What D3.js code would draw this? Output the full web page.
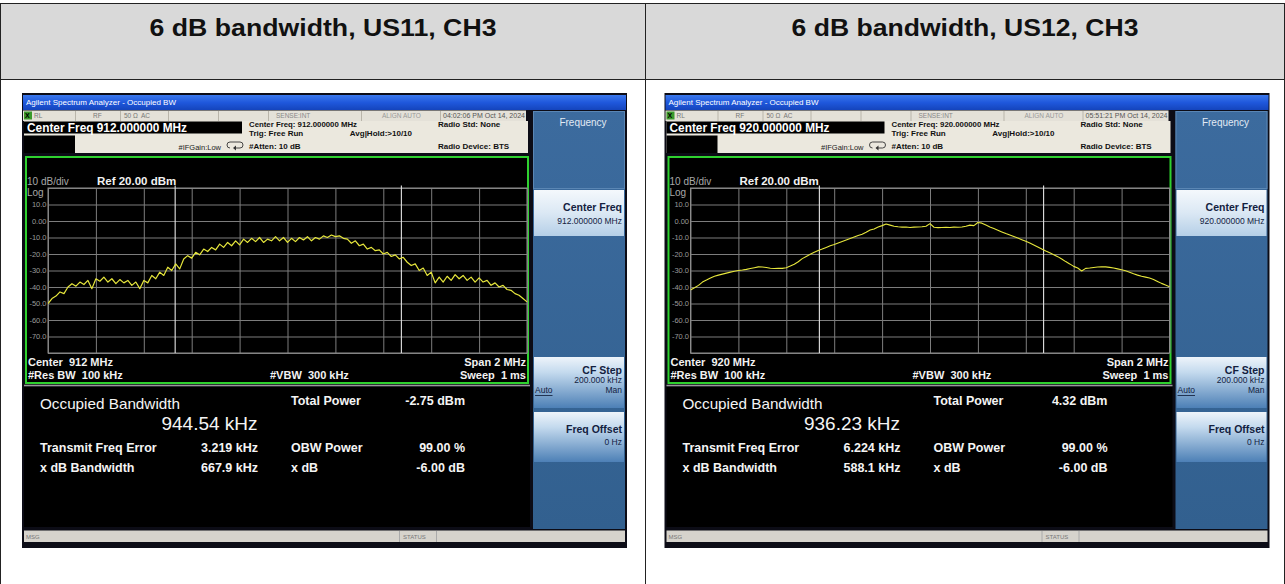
<!DOCTYPE html>
<html><head><meta charset="utf-8">
<script src="https://cdn.jsdelivr.net/npm/d3@7"></script>
<style>
body{margin:0;background:#fff;}
svg{display:block;font-family:Arial,"Liberation Sans",sans-serif;}
svg text{white-space:pre;}
</style></head>
<body><svg id="c" width="1285" height="584"></svg>
<script>
// ---------------- data ----------------
const titles = ["6 dB bandwidth, US11, CH3", "6 dB bandwidth, US12, CH3"];
const centerFreqMHz = [912, 920];
const spanMHz = 2;
const timestamps = ["04:02:06 PM Oct 14, 2024", "05:51:21 PM Oct 14, 2024"];
const occupiedBwKHz = [944.54, 936.23];
const totalPowerDbm = [-2.75, 4.32];
const freqErrorKHz = [3.219, 6.224];
const xdbBwKHz = [667.9, 588.1];
const obwPowerPct = [99.00, 99.00];
const xdbValue = [-6.00, -6.00];
const refLevelDbm = 20;
const dbPerDiv = 10;
const yGridValues = [20, 10, 0, -10, -20, -30, -40, -50, -60, -70, -80];
const yLabelValues = [10, 0, -10, -20, -30, -40, -50, -60, -70];
const yTickLabels = ["10.0", "0.00", "-10.0", "-20.0", "-30.0", "-40.0", "-50.0", "-60.0", "-70.0"];

// trace readings (dBm), 121 sweep points across the 2 MHz span
const traceUS11 = [
 -50,-47,-45.5,-43,-44,-40,-38,-39.5,-37,-38.5,-36,-41,-35,-36.5,-34,-37,-35,-38,-35.5,-37.5,
 -36,-39,-37,-41,-36,-37.5,-33,-35,-31,-33,-28,-30,-26,-29,-23,-21,-22.5,-19,-20.5,-17,
 -18.5,-16,-17.5,-14,-16,-13,-15,-12,-14.5,-11,-13,-10.5,-12.5,-10,-13,-11,-12,-9.5,-12,-10,
 -13,-10.5,-12.5,-10,-11.5,-9.5,-12,-10,-11,-9,-10,-8.5,-9.5,-9,-10.5,-11,-13.5,-12,-15,-14,
 -17,-16,-18,-17.5,-20,-19,-21.5,-20.5,-23,-22,-25,-27,-26,-30,-28.5,-33,-31,-37.5,-34,-37,
 -33.5,-36,-32.5,-35,-33,-36,-34,-37,-34.5,-37,-36,-39,-37.5,-40,-39,-41.5,-42,-44,-45,-47,
 -49
];
const traceUS12 = [
 -41.8,-40.5,-39,-37,-35.8,-34.5,-33.5,-32.8,-32.2,-31.6,-31,-30.5,-30,-29.7,-29.3,-28.8,-28.3,-27.8,-27.9,-28.2,
 -28.6,-28.8,-28.7,-28.7,-28.3,-27.3,-26.2,-24.7,-22.8,-21.5,-20.2,-19,-17.9,-17,-16,-15,-14.2,-13.3,-12.4,-11.5,
 -10.6,-9.7,-8.8,-8,-6.8,-5.5,-4.8,-3.6,-2.8,-1.8,-2.5,-3.2,-3.5,-3.7,-3.6,-3.9,-3.7,-3.6,-3.5,-3.2,
 -1.6,-3.8,-4,-3.9,-3.8,-3.9,-3.7,-3.8,-3.6,-3.2,-2.5,-2.8,-0.9,-1.3,-2.4,-3.6,-4.6,-5.6,-6.6,-7.6,
 -8.5,-9.4,-10.3,-11.3,-12.3,-13.4,-14.5,-15.7,-17,-18.2,-19.3,-20.4,-21.6,-23,-24.6,-26,-27.5,-28.5,-30.3,-28.7,
 -28.5,-28.2,-27.9,-27.7,-27.8,-28.1,-28.5,-29,-29.5,-30.2,-31,-32,-32.8,-33.5,-34,-34.6,-35.4,-36.6,-37.8,-38.8,
 -39.8
];
const traces = [traceUS11, traceUS12];

// ---------------- drawing ----------------
const svg = d3.select('#c');
const defs = svg.append('defs');
function lg(id, stops) {
  const g = defs.append('linearGradient').attr('id', id).attr('x1', 0).attr('y1', 0).attr('x2', 0).attr('y2', 1);
  stops.forEach(([o, c]) => g.append('stop').attr('offset', o).attr('stop-color', c));
}
lg('tb', [[0, '#3b78ec'], [0.5, '#1f58dc'], [1, '#1444bc']]);
lg('btnSel', [[0, '#f4f8fc'], [0.5, '#dbe8f4'], [1, '#b5cfe7']]);
lg('btn', [[0, '#eef4fa'], [0.3, '#c4daee'], [1, '#4d80b6']]);
lg('panel', [[0, '#3c6b9e'], [1, '#32608f']]);

// table
svg.append('rect').attr('x', 1).attr('y', 4).attr('width', 1283).attr('height', 75).attr('fill', '#d9d9d9');
const tl = (x1, y1, x2, y2) => svg.append('line').attr('x1', x1).attr('y1', y1).attr('x2', x2).attr('y2', y2)
  .attr('stroke', '#222').attr('stroke-width', 1);
tl(0, 3.5, 1285, 3.5);
tl(0, 79.5, 1285, 79.5);
tl(0.5, 3.5, 0.5, 584);
tl(645.5, 3.5, 645.5, 584);
tl(1284.5, 3.5, 1284.5, 584);
const colCenters = [323, 965];
titles.forEach((t, i) => {
  svg.append('text').attr('x', colCenters[i]).attr('y', 36).attr('text-anchor', 'middle')
    .attr('font-size', 23).attr('font-weight', 'bold').attr('fill', '#111')
    .attr('textLength', 347).attr('lengthAdjust', 'spacingAndGlyphs').text(t);
});

const screenDx = [0, 642.5];
const plot = {l: 48, r: 527, t: 188, b: 353};

function txt(g, x, y, s, o = {}) {
  const t = g.append('text').attr('x', x).attr('y', y).attr('dominant-baseline', 'central')
    .attr('font-size', o.size || 8).attr('fill', o.fill || '#111')
    .attr('font-weight', o.bold ? 'bold' : 'normal')
    .attr('text-anchor', o.anchor || 'start').text(s);
  if (o.len) t.attr('textLength', o.len).attr('lengthAdjust', 'spacingAndGlyphs');
  if (o.underline) t.attr('text-decoration', 'underline');
  return t;
}

traces.forEach((trace, si) => {
  const cf = centerFreqMHz[si];
  const g = svg.append('g').attr('transform', `translate(${screenDx[si]},0)`);

  // outer frame
  g.append('rect').attr('x', 22).attr('y', 93).attr('width', 605).attr('height', 455).attr('fill', '#0c0c16');
  // title bar
  g.append('rect').attr('x', 23).attr('y', 95).attr('width', 603).attr('height', 15).attr('fill', 'url(#tb)');
  txt(g, 26, 102.5, 'Agilent Spectrum Analyzer - Occupied BW', {size: 8, fill: '#fff', len: 150});

  // status row
  g.append('rect').attr('x', 23).attr('y', 110.5).attr('width', 503).attr('height', 10.5).attr('fill', '#e4e1d8');
  [75, 120, 168, 218, 268, 361, 440].forEach(x =>
    g.append('line').attr('x1', x + .5).attr('x2', x + .5).attr('y1', 111).attr('y2', 121).attr('stroke', '#b9b5aa'));
  g.append('rect').attr('x', 24).attr('y', 111.5).attr('width', 8).attr('height', 8).attr('fill', '#3a9a2a');
  txt(g, 25, 115.8, 'X', {size: 7, fill: '#000', bold: true});
  txt(g, 34, 115.8, 'RL', {size: 6.5, fill: '#777'});
  txt(g, 93, 115.8, 'RF', {size: 6.5, fill: '#777'});
  txt(g, 124, 115.8, '50 Ω', {size: 6.5, fill: '#777'});
  txt(g, 141, 115.8, 'AC', {size: 6.5, fill: '#777'});
  txt(g, 276, 115.8, 'SENSE:INT', {size: 6.5, fill: '#888'});
  txt(g, 382, 115.8, 'ALIGN AUTO', {size: 6.5, fill: '#999'});
  txt(g, 443, 115.8, timestamps[si], {size: 6.8, fill: '#555', len: 82});

  // info area
  g.append('rect').attr('x', 24).attr('y', 121).attr('width', 504).attr('height', 32).attr('fill', '#ebe8de');
  g.append('rect').attr('x', 24).attr('y', 121.5).attr('width', 218).attr('height', 12).attr('fill', '#000');
  g.append('rect').attr('x', 24).attr('y', 135.5).attr('width', 51).attr('height', 17.5).attr('fill', '#000');
  txt(g, 27, 127.5, `Center Freq ${cf.toFixed(6)} MHz`, {size: 12, fill: '#fff', bold: true, len: 160});
  txt(g, 249, 124.5, `Center Freq: ${cf.toFixed(6)} MHz`, {size: 8, bold: true, len: 108});
  txt(g, 249, 133, 'Trig: Free Run', {size: 8, bold: true});
  txt(g, 412, 133, 'Avg|Hold:>10/10', {size: 8, bold: true, anchor: 'end'});
  txt(g, 249, 146, '#Atten: 10 dB', {size: 8, bold: true});
  txt(g, 221, 147.5, '#IFGain:Low', {size: 7.5, anchor: 'end', fill: '#222'});
  txt(g, 438, 124.5, 'Radio Std: None', {size: 8, bold: true});
  txt(g, 438, 146, 'Radio Device: BTS', {size: 8, bold: true});
  // loop icon
  g.append('path').attr('d', 'M230,142 h10 a3,3 0 0 1 0,6 h-6').attr('fill', 'none').attr('stroke', '#333').attr('stroke-width', 0.9);
  g.append('path').attr('d', 'M236,145.5 l-3,2.5 l3,2.5 z').attr('fill', '#333');
  g.append('path').attr('d', 'M230,142 a3,3 0 0 0 0,6').attr('fill', 'none').attr('stroke', '#333').attr('stroke-width', 0.9);

  // graph window
  g.append('rect').attr('x', 26).attr('y', 157).attr('width', 502).attr('height', 226)
    .attr('fill', '#000').attr('stroke', '#2fd12f').attr('stroke-width', 2);

  const x = d3.scaleLinear().domain([cf - spanMHz / 2, cf + spanMHz / 2]).range([plot.l, plot.r]);
  const y = d3.scaleLinear().domain([refLevelDbm - 10 * dbPerDiv, refLevelDbm]).range([plot.b, plot.t]);

  // grid
  g.append('g').attr('transform', `translate(0,${plot.b})`)
    .call(d3.axisBottom(x).ticks(10).tickSize(-(plot.b - plot.t)).tickFormat(''))
    .call(a => { a.select('.domain').remove(); a.selectAll('line').attr('stroke', '#7d7d7d'); });
  g.append('g').attr('transform', `translate(${plot.l},0)`)
    .call(d3.axisLeft(y).tickValues(yGridValues).tickSize(-(plot.r - plot.l)).tickFormat(''))
    .call(a => { a.select('.domain').remove(); a.selectAll('line').attr('stroke', '#7d7d7d'); });
  g.append('rect').attr('x', plot.l).attr('y', plot.t).attr('width', plot.r - plot.l).attr('height', plot.b - plot.t)
    .attr('fill', 'none').attr('stroke', '#8c8c8c');
  // y labels
  g.append('g').attr('transform', `translate(${plot.l},0)`)
    .call(d3.axisLeft(y).tickValues(yLabelValues).tickSize(0).tickPadding(1.5).tickFormat((d, i) => yTickLabels[i]))
    .call(a => { a.select('.domain').remove();
      a.selectAll('text').attr('fill', '#9a9a9a').attr('font-size', 7.5).attr('font-family', 'Arial, sans-serif'); });

  txt(g, 27, 181, `${dbPerDiv} dB/div`, {size: 10, fill: '#a8a8a8'});
  txt(g, 97, 180.5, `Ref ${refLevelDbm.toFixed(2)} dBm`, {size: 11.5, fill: '#f2f2f2', bold: true});
  txt(g, 27, 192, 'Log', {size: 10, fill: '#a8a8a8'});

  // OBW marker lines
  const fc = cf + freqErrorKHz[si] / 1000;
  const half = occupiedBwKHz[si] / 2000;
  [fc - half, fc + half].forEach(f => {
    g.append('line').attr('x1', x(f)).attr('x2', x(f)).attr('y1', plot.t - 2.5).attr('y2', plot.b)
      .attr('stroke', '#e4e4e4').attr('stroke-width', 1.1);
  });

  // trace
  const cid = 'clip' + si;
  defs.append('clipPath').attr('id', cid).append('rect')
    .attr('x', plot.l).attr('y', plot.t - 5).attr('width', plot.r - plot.l + 1).attr('height', plot.b - plot.t + 10);
  const n = trace.length;
  const line = d3.line().x((d, i) => x(cf - spanMHz / 2 + i * spanMHz / (n - 1))).y(d => y(d));
  g.append('path').datum(trace).attr('d', line).attr('fill', 'none')
    .attr('stroke', '#e6e63c').attr('stroke-width', si === 0 ? 1.2 : 1.1).attr('stroke-linejoin', 'round')
    .attr('clip-path', `url(#${cid})`);

  // footer of graph
  txt(g, 28, 361.5, `Center  ${cf} MHz`, {size: 11, fill: '#f2f2f2', bold: true});
  txt(g, 526, 361.5, `Span ${spanMHz} MHz`, {size: 11, fill: '#f2f2f2', bold: true, anchor: 'end'});
  txt(g, 28, 375, '#Res BW  100 kHz', {size: 11, fill: '#f2f2f2', bold: true});
  txt(g, 270, 375, '#VBW  300 kHz', {size: 11, fill: '#f2f2f2', bold: true});
  txt(g, 526, 375, 'Sweep  1 ms', {size: 11, fill: '#f2f2f2', bold: true, anchor: 'end'});

  // results panel
  g.append('line').attr('x1', 24).attr('x2', 530).attr('y1', 385.5).attr('y2', 385.5).attr('stroke', '#9a9a9a').attr('stroke-width', 1.5);
  g.append('rect').attr('x', 24).attr('y', 387).attr('width', 506).attr('height', 140).attr('fill', '#000');
  const wc = '#f4f4f4';
  txt(g, 40, 403, 'Occupied Bandwidth', {size: 15, fill: wc, len: 140});
  txt(g, 257.5, 423.5, `${occupiedBwKHz[si].toFixed(2)} kHz`, {size: 19, fill: wc, anchor: 'end', len: 96});
  txt(g, 291, 401, 'Total Power', {size: 12.5, fill: wc, bold: true});
  txt(g, 465, 401, `${totalPowerDbm[si].toFixed(2)} dBm`, {size: 12.5, fill: wc, bold: true, anchor: 'end'});
  txt(g, 40, 448, 'Transmit Freq Error', {size: 12.5, fill: wc, bold: true});
  txt(g, 258, 448, `${freqErrorKHz[si].toFixed(3)} kHz`, {size: 12.5, fill: wc, bold: true, anchor: 'end'});
  txt(g, 291, 448, 'OBW Power', {size: 12.5, fill: wc, bold: true});
  txt(g, 465, 448, `${obwPowerPct[si].toFixed(2)} %`, {size: 12.5, fill: wc, bold: true, anchor: 'end'});
  txt(g, 40, 468, 'x dB Bandwidth', {size: 12.5, fill: wc, bold: true});
  txt(g, 258, 468, `${xdbBwKHz[si].toFixed(1)} kHz`, {size: 12.5, fill: wc, bold: true, anchor: 'end'});
  txt(g, 291, 468, 'x dB', {size: 12.5, fill: wc, bold: true});
  txt(g, 465, 468, `${xdbValue[si].toFixed(2)} dB`, {size: 12.5, fill: wc, bold: true, anchor: 'end'});

  // softkey panel
  g.append('rect').attr('x', 533).attr('y', 111).attr('width', 92).attr('height', 418).attr('fill', 'url(#panel)');
  g.append('rect').attr('x', 533.5).attr('y', 111.5).attr('width', 91).attr('height', 77).attr('fill', 'none').attr('stroke', '#5a86b4');
  txt(g, 583, 122.5, 'Frequency', {size: 10, fill: '#e2eaf4', anchor: 'middle'});
  g.append('rect').attr('x', 534).attr('y', 190).attr('width', 90).attr('height', 46).attr('fill', 'url(#btnSel)');
  txt(g, 622, 207, 'Center Freq', {size: 10.5, fill: '#13213f', bold: true, anchor: 'end'});
  txt(g, 622, 221, `${cf.toFixed(6)} MHz`, {size: 8.5, fill: '#13213f', anchor: 'end'});
  g.append('rect').attr('x', 534).attr('y', 357).attr('width', 90).attr('height', 51).attr('fill', 'url(#btn)');
  txt(g, 622, 370, 'CF Step', {size: 10.5, fill: '#13213f', bold: true, anchor: 'end'});
  txt(g, 622, 379.5, '200.000 kHz', {size: 8.5, fill: '#13213f', anchor: 'end'});
  txt(g, 535, 390, 'Auto', {size: 8.5, fill: '#13213f', underline: true});
  txt(g, 622, 390, 'Man', {size: 8.5, fill: '#13213f', anchor: 'end'});
  g.append('rect').attr('x', 534).attr('y', 412).attr('width', 90).attr('height', 50).attr('fill', 'url(#btn)');
  txt(g, 622, 429, 'Freq Offset', {size: 10.5, fill: '#13213f', bold: true, anchor: 'end'});
  txt(g, 622, 442, '0 Hz', {size: 8.5, fill: '#13213f', anchor: 'end'});

  // MSG bar
  g.append('rect').attr('x', 24).attr('y', 530.5).attr('width', 601).attr('height', 11.5).attr('fill', '#d6d3cc');
  [399, 436].forEach(xx => g.append('line').attr('x1', xx + .5).attr('x2', xx + .5).attr('y1', 531).attr('y2', 542).attr('stroke', '#aaa'));
  txt(g, 26, 536.5, 'MSG', {size: 6, fill: '#777'});
  txt(g, 403, 536.5, 'STATUS', {size: 6, fill: '#777'});
});
</script></body></html>
